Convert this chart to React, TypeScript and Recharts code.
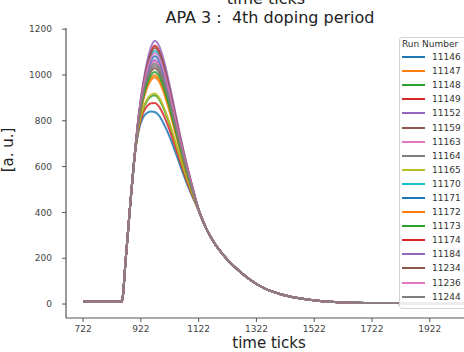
import { LineChart, Line, XAxis, YAxis, Legend } from 'recharts';

const FONT = '"DejaVu Sans", "Liberation Sans", sans-serif';

// tab10 cycle, same order as the legend
const COLORS = [
  '#1f77b4', '#ff7f0e', '#2ca02c', '#d62728', '#9467bd',
  '#8c564b', '#e377c2', '#7f7f7f', '#bcbd22', '#17becf',
];

const runNumbers = [
  '11146', '11147', '11148', '11149', '11152', '11159', '11163', '11164', '11165',
  '11170', '11171', '11172', '11173', '11174', '11184', '11234', '11236', '11244',
];

// sample positions along the time axis
const timeTicks = [
  722, 800, 856, 870, 885, 900,
  915, 930, 945, 958, 970, 985, 1000, 1020, 1040, 1060, 1080, 1100,
  1125, 1150, 1180, 1210, 1250, 1300, 1350, 1400, 1470, 1550, 1650, 1800, 1950, 2070,
];

// baseline + rising edge (all runs overlap here)
const riseValues = [10, 10, 10, 200, 430, 640];

// peak region, 915 .. 1100, one row per run
const peakValues = [
  [760, 815, 836, 840, 838, 822, 790, 735, 668, 598, 530, 470],
  [796, 893, 955, 988, 999, 981, 936, 854, 760, 664, 574, 493],
  [776, 850, 890, 907, 911, 894, 856, 789, 709, 628, 550, 481],
  [769, 835, 866, 877, 878, 862, 827, 765, 691, 615, 541, 476],
  [811, 925, 1003, 1048, 1065, 1046, 996, 903, 797, 691, 592, 503],
  [803, 908, 977, 1016, 1029, 1011, 964, 877, 777, 676, 582, 498],
  [810, 922, 1000, 1043, 1059, 1040, 991, 899, 794, 689, 591, 502],
  [805, 912, 985, 1025, 1039, 1021, 973, 884, 783, 680, 585, 499],
  [778, 854, 896, 914, 919, 902, 863, 795, 714, 631, 552, 482],
  [820, 944, 1033, 1085, 1105, 1085, 1033, 933, 820, 707, 603, 509],
  [815, 933, 1016, 1064, 1082, 1063, 1012, 916, 807, 698, 597, 505],
  [794, 888, 948, 979, 989, 971, 927, 847, 754, 660, 571, 492],
  [800, 900, 965, 1001, 1013, 995, 949, 865, 768, 670, 578, 495],
  [825, 955, 1050, 1106, 1128, 1108, 1054, 950, 833, 717, 609, 512],
  [830, 965, 1065, 1125, 1148, 1128, 1072, 965, 845, 725, 615, 515],
  [823, 950, 1043, 1097, 1118, 1098, 1045, 943, 828, 713, 607, 511],
  [818, 939, 1026, 1076, 1095, 1075, 1023, 925, 815, 703, 600, 507],
  [808, 917, 992, 1034, 1049, 1031, 982, 892, 789, 685, 588, 501],
];

// decay tail, 1125 .. 2070 (runs overlap again)
const tailValues = [400, 325, 260, 210, 158, 106, 68, 45, 25, 12, 6, 4, 3, 3];

const xTicks = [722, 922, 1122, 1322, 1522, 1722, 1922];
const yTicks = [0, 200, 400, 600, 800, 1000, 1200];

const data = timeTicks.map((t, i) => {
  const row: Record<string, number> = { t };
  runNumbers.forEach((run, r) => {
    if (i < riseValues.length) row[run] = riseValues[i];
    else if (i < riseValues.length + peakValues[r].length) row[run] = peakValues[r][i - riseValues.length];
    else row[run] = tailValues[i - riseValues.length - peakValues[r].length];
  });
  return row;
});

const tickStyle = { fontSize: 9, fill: '#444', fontFamily: FONT };

function RunLegend({ payload }: any) {
  const items = payload && payload.length
    ? payload
    : runNumbers.map((run, i) => ({ value: run, color: COLORS[i % COLORS.length] }));
  return (
    <div
      style={{
        border: '1px solid #d4d4d4',
        borderRadius: 3,
        background: 'rgba(255,255,255,0.85)',
        padding: '0 0 4px 2px',
        fontFamily: FONT,
        fontSize: 9,
        color: '#333',
        width: 88,
      }}
    >
      <div style={{ height: 12, lineHeight: '12px', whiteSpace: 'nowrap' }}>Run Number</div>
      {items.map((item: any) => (
        <div key={item.value} style={{ height: 14.1, display: 'flex', alignItems: 'center' }}>
          <svg width={23} height={4} style={{ display: 'block' }}>
            <line x1={0} y1={2} x2={23} y2={2} stroke={item.color} strokeWidth={2} />
          </svg>
          <span style={{ marginLeft: 7, lineHeight: '14px' }}>{item.value}</span>
        </div>
      ))}
    </div>
  );
}

export default function App() {
  return (
    <div
      style={{
        position: 'absolute',
        left: 0,
        top: 0,
        width: 464,
        height: 352,
        overflow: 'hidden',
        background: '#fff',
      }}
    >
      <LineChart width={484} height={352} data={data} margin={{ top: 28, right: 10, bottom: 0, left: 0 }}>
        <XAxis
          xAxisId="top"
          orientation="top"
          type="number"
          dataKey="t"
          domain={[663, 2075]}
          allowDataOverflow
          height={0}
          tick={false}
          tickLine={false}
          axisLine={{ stroke: '#555', strokeWidth: 1.2 }}
        />
        <XAxis
          type="number"
          dataKey="t"
          domain={[663, 2075]}
          ticks={xTicks}
          allowDataOverflow
          height={34}
          tickSize={4}
          tickMargin={4}
          tick={tickStyle}
          axisLine={{ stroke: '#555', strokeWidth: 1.2 }}
          tickLine={{ stroke: '#555' }}
        />
        <YAxis
          type="number"
          domain={[-61, 1205]}
          ticks={yTicks}
          allowDataOverflow
          width={66}
          tickSize={4}
          tickMargin={10}
          tick={tickStyle}
          axisLine={{ stroke: '#555', strokeWidth: 1.2 }}
          tickLine={{ stroke: '#555' }}
        />
        <Legend
          layout="vertical"
          align="center"
          verticalAlign="middle"
          wrapperStyle={{ left: 399, top: 37, width: 90 }}
          content={RunLegend}
        />
        {runNumbers.map((run, i) => (
          <Line
            key={run}
            name={run}
            dataKey={run}
            type="monotone"
            stroke={COLORS[i % COLORS.length]}
            strokeWidth={2}
            strokeOpacity={0.85}
            dot={false}
            activeDot={false}
            isAnimationActive={false}
          />
        ))}
      </LineChart>
      <svg
        width={464}
        height={352}
        style={{ position: 'absolute', left: 0, top: 0, pointerEvents: 'none' }}
        fontFamily={FONT}
        fill="#222"
      >
        <text x={266} y={4} fontSize={16} textAnchor="middle">time ticks</text>
        <text x={270} y={23} fontSize={16} textAnchor="middle" style={{ whiteSpace: 'pre' }}>
          APA 3 :  4th doping period
        </text>
        <text x={269} y={348} fontSize={15} textAnchor="middle">time ticks</text>
        <text x={13} y={150} fontSize={15} textAnchor="middle" transform="rotate(-90 13 150)">[a. u.]</text>
      </svg>
    </div>
  );
}
